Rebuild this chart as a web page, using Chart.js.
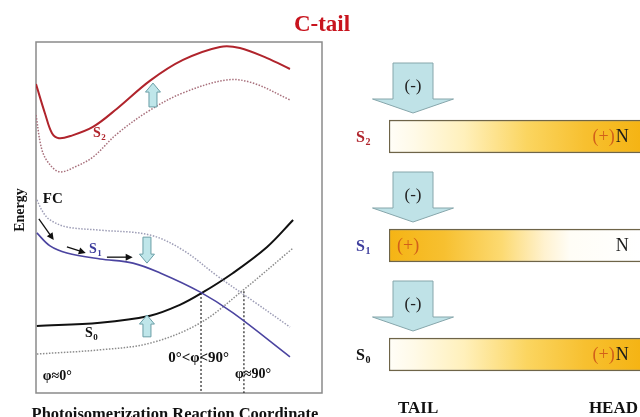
<!DOCTYPE html>
<html>
<head>
<meta charset="utf-8">
<script src="https://cdn.jsdelivr.net/npm/chart.js@4"></script>
<style>
html, body { margin: 0; padding: 0; background: #fff; }
#wrap { position: relative; width: 640px; height: 417px; overflow: hidden; }
#energy { position: absolute; left: 0; top: 0; }
#bars { position: absolute; left: 330px; top: 0; }
</style>
</head>
<body>
<div id="wrap">
  <canvas id="energy" width="640" height="417"></canvas>
  <canvas id="bars" width="310" height="417"></canvas>
</div>
<script>
// potential energy curves, reaction coordinate 0-100, energy 0-100
var s2SolidX = [0, 3.2, 5.6, 8.0, 12.0, 19.9, 28.3, 39.9, 51.4, 64.3, 71.3, 80.8, 88.8];
var s2SolidY = [88.0, 79.5, 74.0, 72.6, 73.2, 75.8, 81.0, 89.0, 94.9, 98.6, 98.3, 95.4, 92.3];
var s2DotX = [0, 2.1, 4.9, 8.4, 13.6, 19.9, 28.3, 39.9, 51.4, 66.8, 75.9, 88.8];
var s2DotY = [79.2, 69.2, 65.0, 63.0, 64.4, 67.2, 73.8, 80.6, 85.5, 89.2, 88.3, 83.5];
var s1DotX = [0.3, 2.4, 4.9, 10.8, 22.4, 39.9, 51.4, 63.3, 75.9, 88.8];
var s1DotY = [55.0, 51.6, 49.3, 47.3, 46.4, 45.0, 40.7, 33.4, 26.2, 18.8];
var s1SolidX = [0.3, 4.9, 10.8, 22.4, 33.9, 43.4, 57.3, 68.9, 88.8];
var s1SolidY = [45.6, 41.9, 39.9, 38.2, 37.0, 34.2, 28.8, 22.8, 10.3];
var s0SolidX = [0.3, 22.4, 39.9, 50.3, 58.0, 68.9, 80.8, 89.9];
var s0SolidY = [19.1, 20.0, 22.0, 25.1, 28.5, 34.2, 41.6, 49.3];
var s0DotX = [0.3, 22.4, 39.9, 57.3, 72.4, 89.9];
var s0DotY = [11.1, 12.3, 14.2, 19.9, 29.3, 41.3];
// conical intersection drop lines
var crossX = [57.7, 72.7];
var crossY = [28.5, 29.0];

// right panel
var states = ['S2', 'S1', 'S0'];
var stateSpan = [[0, 100], [0, 100], [0, 100]];
var chargeSide = ['head', 'tail', 'head'];

var SERIF = "'Liberation Serif', 'DejaVu Serif', serif";

function pts(xs, ys) {
  return xs.map(function (x, i) { return { x: x, y: ys[i] }; });
}

function curve(label, xs, ys, color, width, dash) {
  return {
    label: label,
    data: pts(xs, ys),
    borderColor: color,
    borderWidth: width,
    borderDash: dash || [],
    showLine: true,
    pointRadius: 0,
    fill: false,
    tension: 0.35
  };
}

var datasets = [
  curve('S2', s2SolidX, s2SolidY, '#b0242c', 2),
  curve('S2 C-tail', s2DotX, s2DotY, '#a8707c', 1.5, [1.5, 1.5]),
  curve('S1 C-tail', s1DotX, s1DotY, '#9d9db6', 1.5, [1.5, 1.5]),
  curve('S1', s1SolidX, s1SolidY, '#4b44a0', 1.6),
  curve('S0', s0SolidX, s0SolidY, '#111111', 2),
  curve('S0 C-tail', s0DotX, s0DotY, '#8c8c8c', 1.5, [1.5, 1.5])
];
crossX.forEach(function (x, i) {
  datasets.push({
    label: 'drop' + i,
    data: [{ x: x, y: crossY[i] }, { x: x, y: 0 }],
    borderColor: '#222',
    borderWidth: 1.2,
    borderDash: [2, 2],
    showLine: true,
    pointRadius: 0,
    tension: 0
  });
});

function blockArrow(c, cx, yTail, yTip, headHalf, shaftHalf, headLen, fill, stroke) {
  var dir = yTip < yTail ? -1 : 1;
  var yBase = yTip - dir * headLen;
  c.beginPath();
  c.moveTo(cx - shaftHalf, yTail);
  c.lineTo(cx - shaftHalf, yBase);
  c.lineTo(cx - headHalf, yBase);
  c.lineTo(cx, yTip);
  c.lineTo(cx + headHalf, yBase);
  c.lineTo(cx + shaftHalf, yBase);
  c.lineTo(cx + shaftHalf, yTail);
  c.closePath();
  c.fillStyle = fill;
  c.fill();
  c.strokeStyle = stroke;
  c.lineWidth = 1;
  c.stroke();
}

function stateLabel(c, x, y, sub, color, size) {
  c.fillStyle = color;
  c.textAlign = 'left';
  c.textBaseline = 'alphabetic';
  c.font = 'bold ' + size + 'px ' + SERIF;
  c.fillText('S', x, y);
  var w = c.measureText('S').width;
  c.font = 'bold ' + Math.round(size * 0.62) + 'px ' + SERIF;
  c.fillText(sub, x + w + 0.5, y + size * 0.22);
}

var cyanArrows = [
  { x: 40.9, from: 81.5, to: 88.3 },
  { x: 38.8, from: 44.4, to: 37.0 },
  { x: 38.8, from: 16.0, to: 22.2 }
];
var pathArrows = [
  [1.0, 49.6, 6.2, 43.6],
  [10.8, 41.6, 17.4, 39.9],
  [24.8, 38.7, 33.8, 38.7]
];

var energyDecor = {
  id: 'energyDecor',
  beforeDatasetsDraw: function (chart) {
    var a = chart.chartArea, c = chart.ctx;
    c.save();
    c.strokeStyle = '#8a8a8a';
    c.lineWidth = 1.5;
    c.strokeRect(a.left, a.top, a.right - a.left, a.bottom - a.top);
    c.restore();
  },
  afterDatasetsDraw: function (chart) {
    var a = chart.chartArea, c = chart.ctx;
    var sx = chart.scales.x, sy = chart.scales.y;
    var X = function (v) { return sx.getPixelForValue(v); };
    var Y = function (v) { return sy.getPixelForValue(v); };
    c.save();

    cyanArrows.forEach(function (ar) {
      blockArrow(c, X(ar.x), Y(ar.from), Y(ar.to), 7.5, 4, 9, '#bfe6ea', '#6a9ea6');
    });

    c.strokeStyle = '#111';
    c.fillStyle = '#111';
    c.lineWidth = 1.3;
    pathArrows.forEach(function (p) {
      var x0 = X(p[0]), y0 = Y(p[1]), x1 = X(p[2]), y1 = Y(p[3]);
      var ang = Math.atan2(y1 - y0, x1 - x0);
      c.beginPath();
      c.moveTo(x0, y0);
      c.lineTo(x1 - 5 * Math.cos(ang), y1 - 5 * Math.sin(ang));
      c.stroke();
      c.beginPath();
      c.moveTo(x1, y1);
      c.lineTo(x1 - 7 * Math.cos(ang) + 3.5 * Math.sin(ang), y1 - 7 * Math.sin(ang) - 3.5 * Math.cos(ang));
      c.lineTo(x1 - 7 * Math.cos(ang) - 3.5 * Math.sin(ang), y1 - 7 * Math.sin(ang) + 3.5 * Math.cos(ang));
      c.closePath();
      c.fill();
    });

    stateLabel(c, X(19.9), Y(72.9), '2', '#b0242c', 14);
    stateLabel(c, X(18.5), Y(39.9), '1', '#3c3c9c', 14);
    stateLabel(c, X(17.1), Y(16.0), '0', '#111', 14);

    c.fillStyle = '#111';
    c.textAlign = 'left';
    c.textBaseline = 'alphabetic';
    c.font = 'bold 15px ' + SERIF;
    c.fillText('FC', X(2.4), Y(54.1));
    c.font = 'bold 14px ' + SERIF;
    c.fillText('\u03c6\u22480\u00b0', X(2.4), Y(3.7));
    c.fillText('\u03c6\u224890\u00b0', X(69.6), Y(4.3));
    c.font = 'bold 15px ' + SERIF;
    c.fillText('0\u00b0<\u03c6<90\u00b0', X(46.2), Y(8.8));

    // titles
    c.textAlign = 'center';
    c.fillStyle = '#c8141e';
    c.font = 'bold 23px ' + SERIF;
    c.fillText('C-tail', a.right, 31);
    c.fillStyle = '#111';
    c.font = 'bold 16.5px ' + SERIF;
    c.fillText('Photoisomerization Reaction Coordinate', (a.left + a.right) / 2 - 4, a.bottom + 26);
    c.translate(a.left - 16, 210);
    c.rotate(-Math.PI / 2);
    c.textBaseline = 'middle';
    c.font = 'bold 14px ' + SERIF;
    c.fillText('Energy', 0, 0);
    c.restore();
  }
};

new Chart(document.getElementById('energy').getContext('2d'), {
  type: 'scatter',
  data: { datasets: datasets },
  options: {
    responsive: false,
    animation: false,
    layout: { padding: { left: 36, right: 318, top: 42, bottom: 24 } },
    plugins: { legend: { display: false }, tooltip: { enabled: false } },
    scales: {
      x: { type: 'linear', min: 0, max: 100, display: false },
      y: { type: 'linear', min: 0, max: 100, display: false }
    }
  },
  plugins: [energyDecor]
});

// right panel: charge location along the chromophore
var stateColors = ['#b0242c', '#3c3c9c', '#111111'];

function barGradient(context) {
  var chart = context.chart, ca = chart.chartArea;
  if (!ca) return '#f5b414';
  var g = chart.ctx.createLinearGradient(ca.left, 0, ca.right, 0);
  if (chargeSide[context.dataIndex] === 'head') {
    g.addColorStop(0, '#fffef8');
    g.addColorStop(0.1, '#fffae8');
    g.addColorStop(0.3, '#fff0bb');
    g.addColorStop(0.55, '#fbd560');
    g.addColorStop(0.78, '#f7c030');
    g.addColorStop(1, '#f5b414');
  } else {
    g.addColorStop(0, '#f5b414');
    g.addColorStop(0.22, '#f7c030');
    g.addColorStop(0.45, '#fcda72');
    g.addColorStop(0.62, '#fff2d0');
    g.addColorStop(0.72, '#fffdf6');
    g.addColorStop(1, '#ffffff');
  }
  return g;
}

var barDecor = {
  id: 'barDecor',
  afterDatasetsDraw: function (chart) {
    var c = chart.ctx, sx = chart.scales.x, sy = chart.scales.y;
    var left = sx.getPixelForValue(0);
    c.save();
    states.forEach(function (s, i) {
      var cy = sy.getPixelForValue(i);
      stateLabel(c, left - 33, cy + 5, s.charAt(1), stateColors[i], 16);

      blockArrow(c, left + 24, cy - 73.5, cy - 23.5, 40.5, 20, 14, '#bfe2e7', '#86a6ab');
      c.fillStyle = '#222';
      c.font = '17px ' + SERIF;
      c.textAlign = 'center';
      c.textBaseline = 'middle';
      c.fillText('(-)', left + 24, cy - 49.5);

      c.textBaseline = 'middle';
      c.font = '18px ' + SERIF;
      var nx = sx.getPixelForValue(84);
      c.textAlign = 'left';
      c.fillStyle = '#1a1a1a';
      c.fillText('N', nx, cy + 1);
      c.fillStyle = '#d2601a';
      if (chargeSide[i] === 'head') {
        c.textAlign = 'right';
        c.fillText('(+)', nx - 1, cy + 1);
      } else {
        c.fillText('(+)', left + 8, cy + 1);
      }
    });
    c.fillStyle = '#111';
    c.font = 'bold 17px ' + SERIF;
    c.textBaseline = 'alphabetic';
    c.textAlign = 'left';
    c.fillText('TAIL', left + 9, 413);
    c.textAlign = 'right';
    c.fillText('HEAD', chart.chartArea.right - 2, 413);
    c.restore();
  }
};

new Chart(document.getElementById('bars').getContext('2d'), {
  type: 'bar',
  data: {
    labels: states,
    datasets: [{
      label: 'charge',
      data: stateSpan,
      backgroundColor: barGradient,
      borderColor: '#6e6448',
      borderWidth: 1.5,
      borderSkipped: false,
      barThickness: 33
    }]
  },
  options: {
    indexAxis: 'y',
    responsive: false,
    animation: false,
    layout: { padding: { left: 59, right: 0, top: 82, bottom: 8 } },
    plugins: { legend: { display: false }, tooltip: { enabled: false } },
    scales: {
      x: { min: 0, max: 93, display: false },
      y: { display: false }
    }
  },
  plugins: [barDecor]
});
</script>
</body>
</html>
